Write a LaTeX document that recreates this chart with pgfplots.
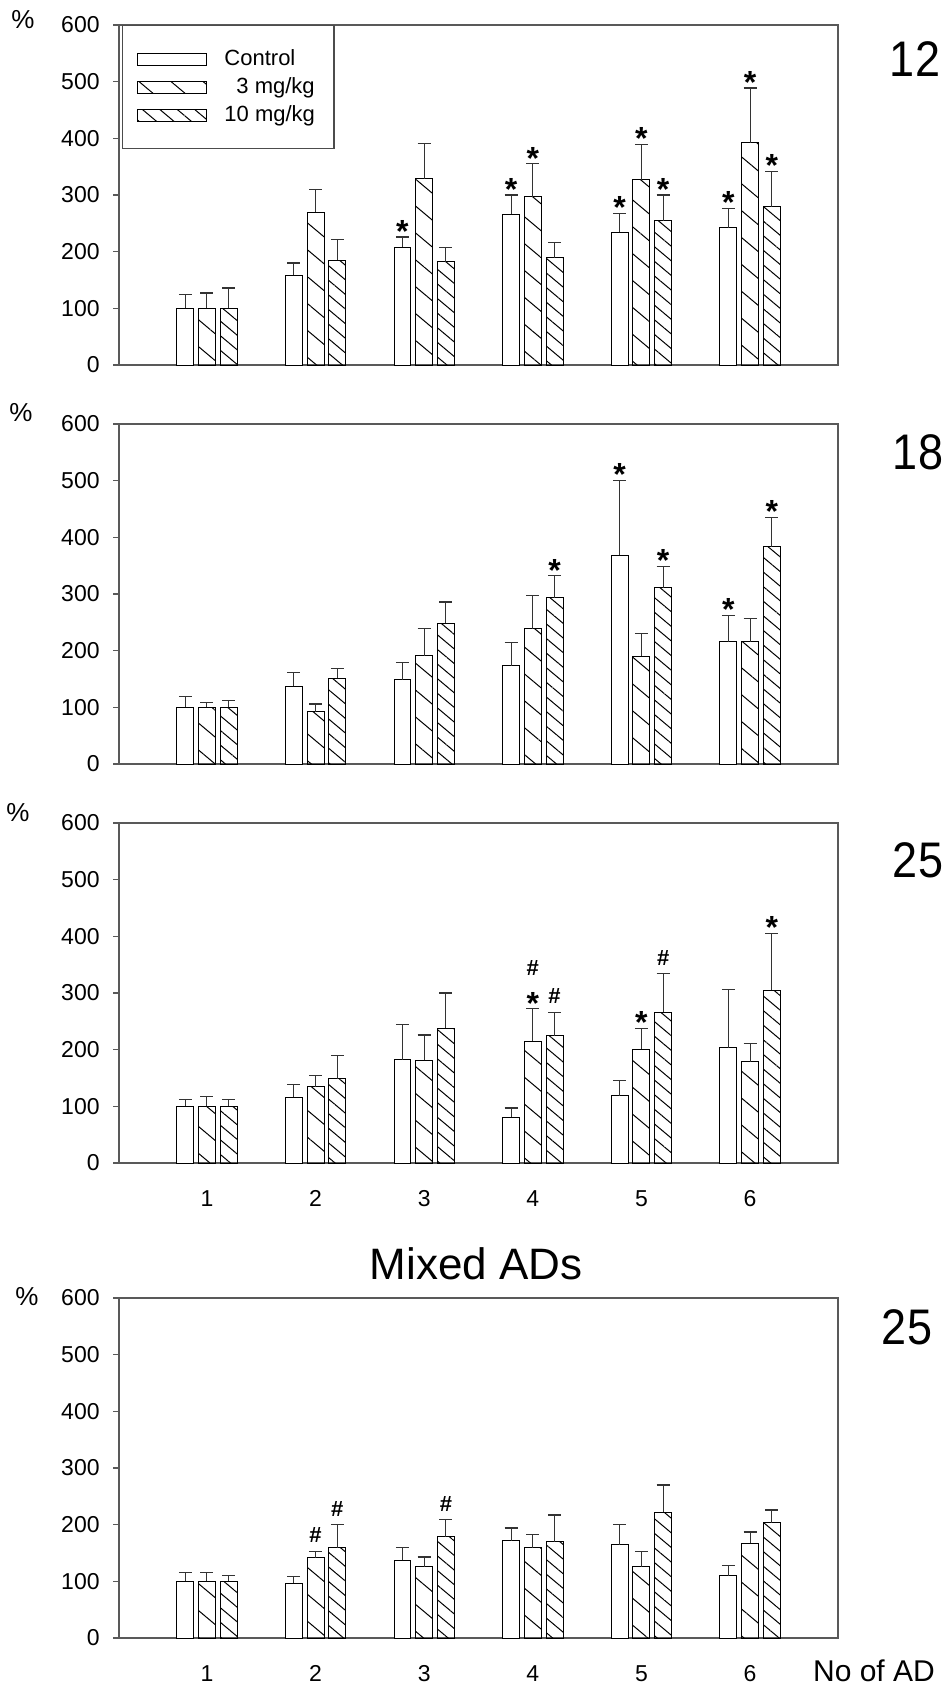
\documentclass[border=0pt]{standalone}
\usepackage{fontspec}
\setmainfont{Liberation Sans}
\usepackage{pgfplots}
\usepackage{pgfplotstable}
\pgfplotsset{compat=1.18}
\usetikzlibrary{patterns.meta}

\pgfplotstableread{
g c ct t tt h ht
1 100 124 100 127 100 136
2 158 180 270 310 185 221
3 208 226 329 391 182 207
4 266 300 297 355 189 216
5 234 268 327 389 255 300
6 242 276 392 489 279 342
}\tA
\pgfplotstableread{
g c ct t tt h ht
1 100 119 100 108 100 112
2 137 162  92 106 151 168
3 149 179 191 239 248 286
4 173 214 239 297 293 332
5 368 500 190 230 311 349
6 216 262 216 257 383 435
}\tB
\pgfplotstableread{
g c ct t tt h ht
1 100 112 100 118 100 112
2 116 138 135 155 149 190
3 182 245 181 226 238 300
4  81  97 215 272 225 266
5 119 145 201 238 266 334
6 203 306 179 211 305 405
}\tC
\pgfplotstableread{
g c ct t tt h ht
1 100 116 100 116 100 110
2  97 109 142 153 159 200
3 137 160 126 143 179 209
4 172 194 159 182 170 217
5 165 201 126 152 222 270
6 110 128 167 187 203 226
}\tD

\pgfplotsset{
  panel/.style={
    width=359.5pt, height=170pt, scale only axis,
    xmin=0.19, xmax=6.81, ymin=0, ymax=600,
    ytick={0,100,...,600}, ytick pos=left,
    tick align=outside, major tick length=3pt,
    major x tick style={draw=none},
    axis line style={draw=black!65, line width=0.8pt},
    every tick/.style={black!65, line width=0.6pt},
    /pgf/number format/assume math mode=true,
    tick label style={font=\fontsize{11.5}{12}\selectfont},
    yticklabel style={anchor=east, inner sep=0pt, xshift=-6.5pt},
    xticklabel style={anchor=center, inner sep=0pt, yshift=-14.8pt},
    clip=false,
  },
  barleg/.style={legend image code/.code={\draw[##1, line width=0.5pt] (0pt,-3pt) rectangle (34.5pt,3pt);}},
  barbase/.style={ybar, bar width=0.156, bar shift=0pt, draw=black, line width=0.5pt,
    error bars/y dir=plus, error bars/y explicit,
    error bars/error bar style={line width=0.5pt, black!80},
    error bars/error mark options={rotate=90, mark size=3.25pt, line width=0.6pt, black!80},
    barleg},
  ctrl/.style={barbase, fill=white},
  low/.style={barbase, pattern={Lines[angle=-40, distance=10.3pt, line width=0.5pt]}},
  high/.style={barbase, pattern={Lines[angle=-40, distance=5.6pt, line width=0.5pt]}},
  star/.style={draw=none, mark=none, forget plot, nodes near coords={*},
    nodes near coords style={anchor=base, inner sep=0pt, yshift=-2.6pt, font=\bfseries\fontsize{16}{16}\selectfont}},
  hash/.style={draw=none, mark=none, forget plot, nodes near coords={\#},
    nodes near coords style={anchor=base, inner sep=0pt, yshift=#1, font=\bfseries\fontsize{11}{11}\selectfont}},
  hash/.default=4.2pt,
}

\newcommand{\bars}[1]{%
  \addplot[ctrl] table[x expr=\thisrow{g}-0.2, y=c, y error expr=\thisrow{ct}-\thisrow{c}] #1;
  \addplot[low] table[x expr=\thisrow{g}, y=t, y error expr=\thisrow{tt}-\thisrow{t}] #1;
  \addplot[high] table[x expr=\thisrow{g}+0.2, y=h, y error expr=\thisrow{ht}-\thisrow{h}] #1;
}

\begin{document}
\begin{tikzpicture}
\path[use as bounding box] (0,0) rectangle (472pt,-843pt);

% Panel 1
\begin{axis}[panel, at={(59.5pt,-182.5pt)}, anchor=south west, xtick=\empty,
  legend style={at={(0.004,1)}, anchor=north west, draw=black!70, line width=0.6pt,
    font=\fontsize{11}{13}\selectfont, inner xsep=7.5pt, inner ysep=10pt, row sep=0.6pt,
    cells={anchor=west, text depth=0pt},
    /tikz/every odd column/.append style={column sep=6.5pt}},
  legend cell align=left]
\bars{\tA}
\legend{Control,\hspace*{6pt}3 mg/kg,10 mg/kg}
\addplot[star] coordinates {(2.8,226) (3.8,300) (4.8,268) (5.8,276) (4,355) (5,389) (6,489) (5.2,300) (6.2,342)};
\end{axis}

% Panel 2
\begin{axis}[panel, at={(59.5pt,-382pt)}, anchor=south west, xtick=\empty]
\bars{\tB}
\addplot[star] coordinates {(4.2,332) (4.8,500) (5.2,349) (5.8,262) (6.2,435)};
\end{axis}

% Panel 3
\begin{axis}[panel, at={(59.5pt,-581.5pt)}, anchor=south west, xtick={1,...,6}]
\bars{\tC}
\addplot[star] coordinates {(4,272) (5,238) (6.2,405)};
\addplot[hash] coordinates {(4.2,266) (5.2,334)};
\addplot[hash=16.6pt] coordinates {(4,272)};
\end{axis}

% Panel 4
\begin{axis}[panel, at={(59.5pt,-819pt)}, anchor=south west, xtick={1,...,6}]
\bars{\tD}
\addplot[hash] coordinates {(2,153) (2.2,200) (3.2,209)};
\end{axis}

% Labels
\node[font=\fontsize{13}{13}\selectfont] at (11.5pt,-10pt) {\%};
\node[font=\fontsize{13}{13}\selectfont] at (10.5pt,-206.5pt) {\%};
\node[font=\fontsize{13}{13}\selectfont] at (9pt,-406.5pt) {\%};
\node[font=\fontsize{13}{13}\selectfont] at (13.5pt,-648.5pt) {\%};

\node[font=\fontsize{25}{25}\selectfont, inner sep=0pt] at (457.5pt,-29.5pt) {\scalebox{0.9}[1]{12}};
\node[font=\fontsize{25}{25}\selectfont, inner sep=0pt] at (459pt,-226pt) {\scalebox{0.9}[1]{18}};
\node[font=\fontsize{25}{25}\selectfont, inner sep=0pt] at (459pt,-430pt) {\scalebox{0.9}[1]{25}};
\node[font=\fontsize{25}{25}\selectfont, inner sep=0pt] at (453.5pt,-663.5pt) {\scalebox{0.9}[1]{25}};

\node[font=\fontsize{22}{22}\selectfont, inner sep=0pt] at (238pt,-632pt) {Mixed ADs};
\node[font=\fontsize{15}{15}\selectfont, inner sep=0pt] at (437pt,-835.5pt) {No of AD};
\end{tikzpicture}
\end{document}
